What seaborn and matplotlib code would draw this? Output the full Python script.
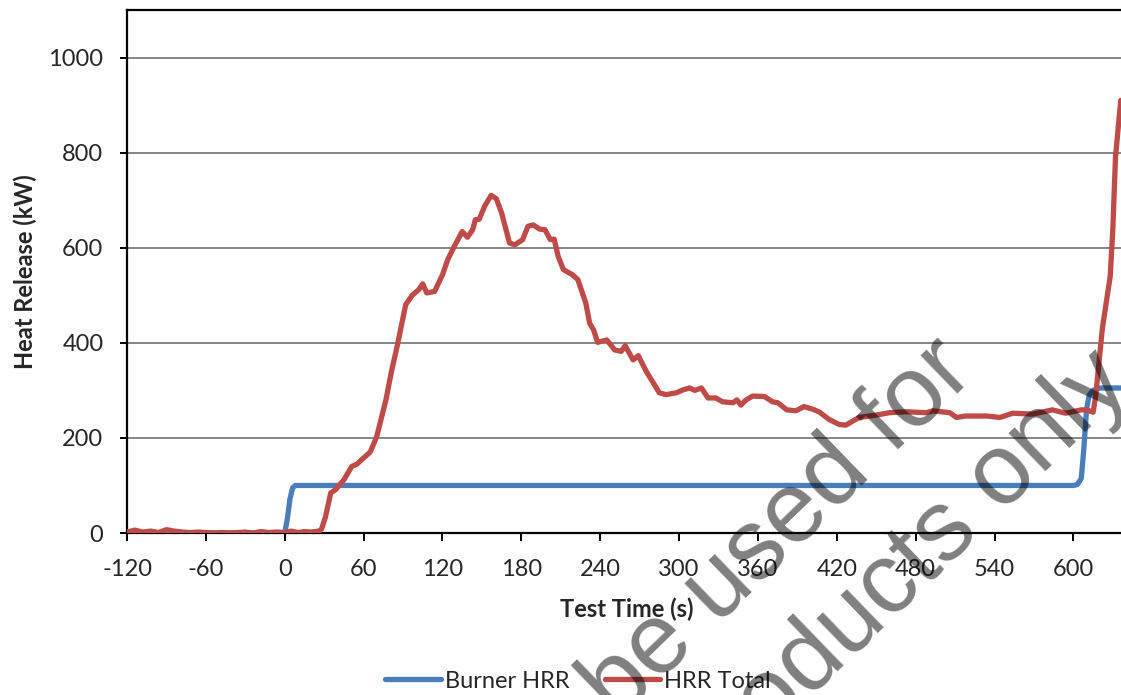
import numpy as np
import pandas as pd
import matplotlib
matplotlib.use("Agg")
import matplotlib.pyplot as plt
import seaborn as sns

# Burner heat release (kW) against test time (s)
burner_time = [-120, -2, 0, 2, 4, 6, 8, 12, 600, 603, 606, 608, 610, 612, 615, 620, 636]
burner_hrr = [0, 0, 0, 30, 72, 95, 100, 100, 100, 102, 115, 180, 260, 290, 300, 305, 305]

# Total heat release (kW) against test time (s)
total_time = [-120, -114, -108, -102, -96, -90, -84, -78, -72, -66, -60, -54, -48, -42,
              -36, -30, -24, -18, -12, -6, 0, 5, 10, 15, 20, 26, 28, 31, 35, 39, 45, 51,
              55, 60, 65, 70, 77, 81, 86, 92, 97, 102, 105, 108, 114, 120, 124, 129, 135,
              139, 143, 145, 148, 152, 157, 161, 165, 171, 175, 181, 185, 189, 194, 198,
              202, 205, 208, 212, 219, 223, 229, 232, 235, 238, 245, 251, 256, 259, 265,
              269, 275, 285, 290, 298, 303, 308, 312, 317, 322, 328, 333, 341, 344, 347,
              351, 356, 365, 371, 375, 382, 389, 395, 402, 407, 414, 422, 427, 430, 437,
              450, 460, 473, 488, 493, 506, 511, 518, 534, 544, 554, 569, 584, 594, 606,
              610, 615, 617, 622, 628, 630, 632, 636]
total_hrr = [2, 6, 2, 4, 1, 7, 4, 2, 1, 2, 1, 0, 1, 0,
             1, 2, 0, 3, 1, 2, 1, 4, 1, 3, 2, 4, 8, 34, 84, 92, 112, 140,
             145, 158, 170, 203, 280, 337, 399, 480, 500, 512, 524, 505, 508, 543, 575, 603, 634,
             622, 638, 659, 660, 687, 710, 703, 673, 610, 606, 617, 645, 648, 639, 638,
             617, 618, 582, 554, 543, 533, 484, 441, 427, 401, 406, 385, 382, 394, 364,
             373, 340, 295, 291, 295, 301, 305, 300, 305, 284, 284, 276, 274, 280, 269,
             280, 288, 287, 276, 274, 259, 257, 266, 260, 254, 239, 228, 227, 232, 243,
             248, 253, 255, 253, 257, 253, 243, 246, 246, 243, 252, 250, 259, 252, 259,
             259, 254, 290, 430, 540, 640, 790, 910]

x_ticks = list(range(-120, 601, 60))
y_ticks = list(range(0, 1001, 200))

BLUE = "#4A7EBB"
RED = "#BE4B48"
W, H = 1121, 695

sns.set_theme(style="white")
plt.rcParams["font.family"] = ["Lato", "DejaVu Sans"]
plt.rcParams["axes.unicode_minus"] = False

fig = plt.figure(figsize=(W / 100, H / 100), dpi=100)
# plot area: x from -120 to 640 s, y from 0 to 1100 kW
ax_left, ax_right, ax_top, ax_bottom = 127, 1126, 10, 533
ax = fig.add_axes([ax_left / W, 1 - ax_bottom / H,
                   (ax_right - ax_left) / W, (ax_bottom - ax_top) / H])

burner = pd.DataFrame({"time": burner_time, "hrr": burner_hrr})
total = pd.DataFrame({"time": total_time, "hrr": total_hrr})

sns.lineplot(data=burner, x="time", y="hrr", ax=ax, color=BLUE, lw=3.8,
             label="Burner HRR", zorder=3, solid_capstyle="round")
sns.lineplot(data=total, x="time", y="hrr", ax=ax, color=RED, lw=3.8,
             label="HRR Total", zorder=4, solid_capstyle="round")

ax.set_xlim(-120, 640)
ax.set_ylim(0, 1100)
ax.set_xticks(x_ticks)
ax.set_yticks(y_ticks)
ax.yaxis.grid(True, color="#868686", lw=1.4)
ax.xaxis.grid(False)

for side in ["left", "bottom", "top"]:
    ax.spines[side].set_color("black")
    ax.spines[side].set_linewidth(1.6)
ax.spines["right"].set_visible(False)

ax.tick_params(axis="x", which="major", direction="out", length=6, width=1.4,
               color="black", labelsize=17, pad=13, bottom=True)
ax.tick_params(axis="y", which="major", direction="out", length=5, width=1.4,
               color="black", labelsize=17, pad=12, left=True)

ax.set_xlabel("Test Time (s)", fontsize=17, fontweight="bold", labelpad=12)
ax.set_ylabel("Heat Release (kW)", fontsize=17, fontweight="bold", labelpad=8.5)

ax.get_legend().remove()
handles, labels = ax.get_legend_handles_labels()
fig.legend(handles, labels, loc="center", bbox_to_anchor=(578 / W, 1 - 681 / H),
           ncol=2, frameon=False, fontsize=17, handlelength=2.35, handletextpad=0.17,
           columnspacing=1.5)

# Diagonal watermark, two lines
wm = dict(fontsize=72, color="black", alpha=0.5, rotation=44, rotation_mode="anchor",
          ha="left", va="baseline", family=["Liberation Sans", "DejaVu Sans"], zorder=10)
fig.text(617 / W, 1 - 722 / H, "be used for", **wm)
fig.text(705 / W, 1 - 800 / H, "products only", **wm)

fig.savefig("out.png", dpi=100)
